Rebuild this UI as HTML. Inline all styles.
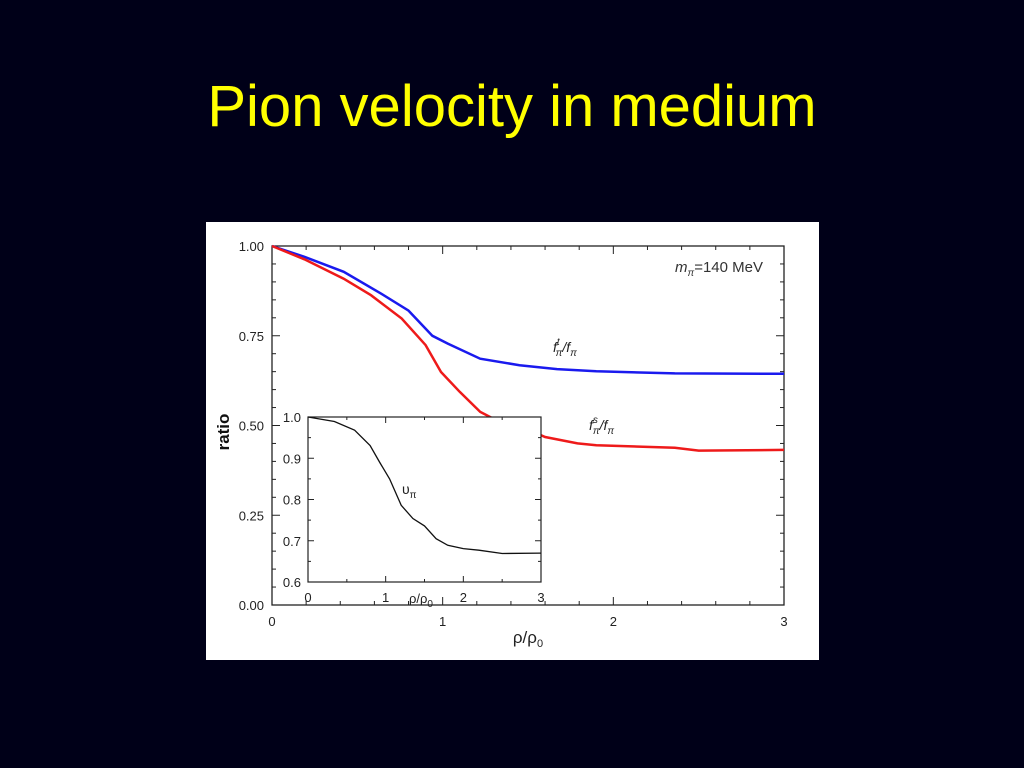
<!DOCTYPE html>
<html><head><meta charset="utf-8"><style>
html,body{margin:0;padding:0;background:#000018;}
body{width:1024px;height:768px;overflow:hidden;position:relative;font-family:"Liberation Sans",sans-serif;}
#title{position:absolute;left:0;width:1024px;top:72px;text-align:center;color:#ffff00;font-size:58px;line-height:70px;}
svg{position:absolute;left:0;top:0;}
</style></head><body>
<div id="title">Pion velocity in medium</div>
<svg id="chart" width="1024" height="768"></svg>
<script>
const blueX=[0,0.19,0.42,0.64,0.80,0.94,1.03,1.22,1.45,1.67,1.9,2.36,3];
const blueY=[1.0,0.97,0.928,0.867,0.82,0.75,0.728,0.686,0.668,0.657,0.651,0.645,0.644];
const redX=[0,0.19,0.42,0.58,0.76,0.9,0.99,1.1,1.22,1.35,1.45,1.51,1.6,1.79,1.9,2.36,2.5,3];
const redY=[1.0,0.963,0.909,0.863,0.798,0.724,0.649,0.594,0.538,0.506,0.492,0.487,0.468,0.45,0.445,0.438,0.43,0.432];
const insetX=[0,0.34,0.6,0.8,0.92,1.05,1.2,1.35,1.5,1.65,1.8,2.0,2.2,2.5,3];
const insetY=[1.0,0.989,0.968,0.931,0.891,0.85,0.786,0.754,0.736,0.705,0.689,0.681,0.677,0.669,0.670];
const mainXTicks=["0","1","2","3"];
const mainYTicks=["0.00","0.25","0.50","0.75","1.00"];
const insetXTicks=["0","1","2","3"];
const insetYTicks=["0.6","0.7","0.8","0.9","1.0"];

const NS="http://www.w3.org/2000/svg";
const svg=document.getElementById('chart');
function mk(t,a,parent){const e=document.createElementNS(NS,t);for(const k in a)e.setAttribute(k,a[k]);(parent||svg).appendChild(e);return e;}
const mx=v=>272+v*(784-272)/3, my=v=>605-v*(605-246);
const ix=v=>308+v*(541-308)/3, iy=v=>582-(v-0.6)*(582-417)/0.4;

let e=mk('rect',{x:206,y:222,width:613,height:438,fill:'#fff'});

e=mk('rect',{x:272,y:246,width:512,height:359,fill:'none',stroke:'#222','stroke-width':1.3});

// main ticks
for(let i=0;i<=15;i++){const x=mx(i*0.2);const L=i%5==0?8:4;
 mk('line',{x1:x,y1:605,x2:x,y2:605-L,stroke:'#222'});mk('line',{x1:x,y1:246,x2:x,y2:246+L,stroke:'#222'});}
for(let i=0;i<=20;i++){const y=my(i*0.05);const L=i%5==0?8:4;
 mk('line',{x1:272,y1:y,x2:272+L,y2:y,stroke:'#222'});mk('line',{x1:784,y1:y,x2:784-L,y2:y,stroke:'#222'});}
mainXTicks.forEach((t,i)=>{const el=mk('text',{x:mx(+t),y:626,'font-size':13,'text-anchor':'middle',fill:'#222'});el.textContent=t;
 });
mainYTicks.forEach(t=>{const el=mk('text',{x:264,y:my(+t)+5,'font-size':13,'text-anchor':'end',fill:'#222'});el.textContent=t;
 });
e=mk('text',{x:528,y:643,'font-size':17,'text-anchor':'middle',fill:'#222'});e.innerHTML='ρ/ρ<tspan font-size="11" dy="4">0</tspan>';

e=mk('text',{x:229,y:432,'font-size':17,'font-weight':'bold','text-anchor':'middle',fill:'#111',transform:'rotate(-90 229 432)'});e.textContent='ratio';

function path(X,Y,fx,fy){return X.map((v,i)=>(i?'L':'M')+fx(v).toFixed(1)+','+fy(Y[i]).toFixed(1)).join('');}
e=mk('path',{d:path(blueX,blueY,mx,my),fill:'none',stroke:'#1a1aee','stroke-width':2.5});

e=mk('path',{d:path(redX,redY,mx,my),fill:'none',stroke:'#ee1a1a','stroke-width':2.5});

e=mk('text',{x:675,y:272,'font-size':15,fill:'#333'});e.innerHTML='<tspan font-style="italic">m</tspan><tspan font-size="10" dy="4" font-style="italic">π</tspan><tspan dy="-4">=140 MeV</tspan>';

e=mk('text',{x:553,y:352,'font-size':14,fill:'#222','font-style':'italic'});e.innerHTML='f<tspan font-size="10" dy="-7">t</tspan><tspan font-size="10" dx="-4" dy="11">π</tspan><tspan dy="-4">/f</tspan><tspan font-size="10" dy="4">π</tspan>';

e=mk('text',{x:589,y:430,'font-size':14,fill:'#222','font-style':'italic'});e.innerHTML='f<tspan font-size="10" dy="-7">s</tspan><tspan font-size="10" dx="-5" dy="11">π</tspan><tspan dy="-4">/f</tspan><tspan font-size="10" dy="4">π</tspan>';

// inset
e=mk('rect',{x:308,y:417,width:233,height:165,fill:'#fff',stroke:'#222','stroke-width':1.2});

for(let i=0;i<=6;i++){const x=ix(i*0.5);const L=i%2==0?6:3;
 mk('line',{x1:x,y1:582,x2:x,y2:582-L,stroke:'#222'});mk('line',{x1:x,y1:417,x2:x,y2:417+L,stroke:'#222'});}
for(let i=0;i<=8;i++){const y=iy(0.6+i*0.05);const L=i%2==0?6:3;
 mk('line',{x1:308,y1:y,x2:308+L,y2:y,stroke:'#222'});mk('line',{x1:541,y1:y,x2:541-L,y2:y,stroke:'#222'});}
insetXTicks.forEach(t=>{const el=mk('text',{x:ix(+t),y:602,'font-size':13,'text-anchor':'middle',fill:'#222'});el.textContent=t;
 });
insetYTicks.forEach(t=>{const el=mk('text',{x:301,y:iy(+t)+5,'font-size':13,'text-anchor':'end',fill:'#222'});el.textContent=t;
 });
e=mk('text',{x:409,y:603,'font-size':13,fill:'#222'});e.innerHTML='ρ/ρ<tspan font-size="10" dy="4">0</tspan>';

e=mk('path',{d:path(insetX,insetY,ix,iy),fill:'none',stroke:'#111','stroke-width':1.3});

e=mk('text',{x:402,y:494,'font-size':14,fill:'#222'});e.innerHTML='υ<tspan font-size="10" dy="4">π</tspan>';

</script>
</body></html>
